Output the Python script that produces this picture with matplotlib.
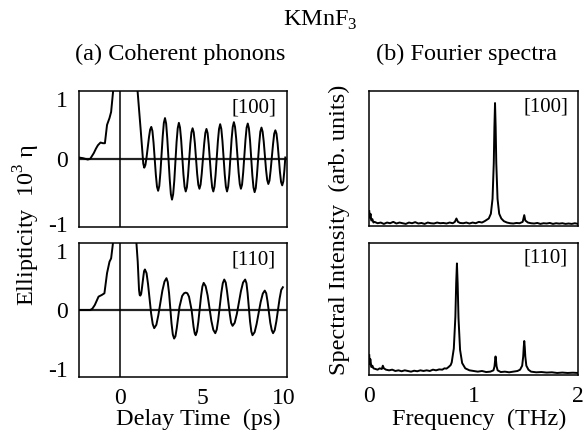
import matplotlib
matplotlib.use("Agg")
import matplotlib.pyplot as plt

plt.rcParams['font.family'] = ['Liberation Serif', 'DejaVu Serif']
plt.rcParams['mathtext.fontset'] = 'custom'
plt.rcParams['mathtext.rm'] = 'Liberation Serif'
plt.rcParams['axes.unicode_minus'] = False

# <--------- time domain, [100]  (delay ps, ellipticity 10^3 eta) --------->
pts_100 = [(-2.55, 0.02), (-2.3, 0.01), (-2.0, -0.01), (-1.85, 0.0), (-1.63, 0.085),
           (-1.5, 0.15), (-1.38, 0.2), (-1.22, 0.24), (-1.07, 0.23), (-0.95, 0.23),
           (-0.82, 0.5), (-0.67, 0.6), (-0.57, 0.69), (-0.45, 0.99), (-0.35, 1.3),
           (0.3, 3.0), (1.05, 1.0), (1.25, 0.4), (1.40, -0.07), (1.46, -0.13),
           (1.53, -0.09), (1.60, 0.02), (1.75, 0.32), (1.82, 0.43), (1.89, 0.47),
           (1.96, 0.41), (2.03, 0.235), (2.17, -0.235), (2.24, -0.41), (2.31, -0.47),
           (2.38, -0.40), (2.45, -0.20), (2.59, 0.33), (2.66, 0.53), (2.73, 0.60),
           (2.80, 0.52), (2.87, 0.30), (3.02, -0.30), (3.09, -0.52), (3.16, -0.60),
           (3.23, -0.52), (3.30, -0.32), (3.44, 0.25), (3.51, 0.45), (3.58, 0.53),
           (3.65, 0.46), (3.72, 0.28), (3.86, -0.23), (3.93, -0.41), (4.00, -0.48),
           (4.07, -0.42), (4.14, -0.25), (4.28, 0.22), (4.35, 0.39), (4.42, 0.45),
           (4.49, 0.39), (4.56, 0.23), (4.70, -0.22), (4.77, -0.38), (4.84, -0.44),
           (4.91, -0.38), (4.98, -0.22), (5.13, 0.22), (5.20, 0.38), (5.27, 0.44),
           (5.34, 0.38), (5.41, 0.21), (5.55, -0.25), (5.62, -0.42), (5.69, -0.48),
           (5.76, -0.41), (5.83, -0.23), (5.97, 0.26), (6.04, 0.44), (6.11, 0.51),
           (6.18, 0.44), (6.25, 0.26), (6.39, -0.23), (6.46, -0.41), (6.53, -0.48),
           (6.60, -0.41), (6.67, -0.23), (6.81, 0.29), (6.88, 0.47), (6.95, 0.54),
           (7.02, 0.47), (7.09, 0.30), (7.24, -0.20), (7.31, -0.37), (7.38, -0.44),
           (7.45, -0.38), (7.52, -0.20), (7.66, 0.28), (7.73, 0.46), (7.80, 0.52),
           (7.87, 0.45), (7.94, 0.27), (8.08, -0.24), (8.15, -0.42), (8.22, -0.49),
           (8.29, -0.43), (8.36, -0.25), (8.50, 0.22), (8.57, 0.40), (8.64, 0.46),
           (8.71, 0.40), (8.78, 0.25), (8.92, -0.16), (8.99, -0.31), (9.06, -0.37),
           (9.13, -0.32), (9.20, -0.17), (9.35, 0.22), (9.42, 0.37), (9.49, 0.42),
           (9.56, 0.37), (9.63, 0.22), (9.77, -0.19), (9.84, -0.34), (9.91, -0.39),
           (9.98, -0.33), (10.05, -0.15), (10.10, 0.02)]

# <--------- time domain, [110] --------->
pts_110 = [(-2.55, 0.0), (-2.2, 0.0), (-1.85, 0.0), (-1.72, 0.02), (-1.57, 0.075),
           (-1.34, 0.2), (-1.14, 0.225), (-0.98, 0.25), (-0.82, 0.55), (-0.67, 0.72),
           (-0.57, 0.77), (-0.47, 0.97), (-0.35, 1.3), (0.3, 3.0), (0.98, 1.0),
           (1.06, 0.72), (1.14, 0.30), (1.18, 0.225), (1.22, 0.215),
           (1.27, 0.24), (1.31, 0.31), (1.41, 0.51), (1.45, 0.58), (1.50, 0.605),
           (1.60, 0.55), (1.69, 0.39), (1.88, -0.05), (1.98, -0.21), (2.07, -0.27),
           (2.20, -0.22), (2.32, -0.08), (2.57, 0.29), (2.70, 0.425), (2.82, 0.475),
           (2.90, 0.415), (2.98, 0.25), (3.13, -0.20), (3.21, -0.365), (3.29, -0.425),
           (3.37, -0.39), (3.45, -0.27), (3.62, 0.05), (3.78, 0.21), (3.90, 0.25),
           (4.00, 0.26), (4.10, 0.25), (4.20, 0.2), (4.36, 0.0), (4.48, -0.25),
           (4.55, -0.345), (4.61, -0.375),
           (4.69, -0.32), (4.77, -0.18), (4.94, 0.21), (5.02, 0.35), (5.10, 0.405),
           (5.22, 0.355), (5.34, 0.22), (5.57, -0.16), (5.69, -0.295), (5.81, -0.345),
           (5.90, -0.29), (5.99, -0.145), (6.18, 0.255), (6.27, 0.40), (6.36, 0.455),
           (6.45, 0.41), (6.53, 0.28), (6.70, -0.06), (6.78, -0.19), (6.87, -0.235),
           (7.00, -0.19), (7.13, -0.06), (7.38, 0.28), (7.51, 0.41), (7.64, 0.455),
           (7.72, 0.40), (7.79, 0.25), (7.94, -0.17), (8.02, -0.32), (8.09, -0.375),
           (8.22, -0.33), (8.34, -0.21), (8.59, 0.12), (8.72, 0.245), (8.84, 0.29),
           (8.93, 0.25), (9.01, 0.13), (9.18, -0.19), (9.27, -0.30), (9.35, -0.345),
           (9.45, -0.30), (9.55, -0.17), (9.75, 0.17), (9.85, 0.30), (9.95, 0.34)]

# <--------- Fourier spectra, [100]  (THz, arb. units) --------->
f_100 = [0.0, 0.005, 0.012, 0.02, 0.03, 0.04, 0.05, 0.08, 0.11, 0.14, 0.17,
         0.20, 0.23, 0.26, 0.29, 0.32, 0.35, 0.38, 0.41, 0.44, 0.47, 0.50,
         0.53, 0.56, 0.59, 0.62, 0.65, 0.68, 0.71, 0.74, 0.77, 0.80, 0.82,
         0.835, 0.85, 0.87, 0.90, 0.93, 0.96, 0.99, 1.02, 1.05, 1.08, 1.105,
         1.145, 1.165, 1.181, 1.193, 1.199, 1.205, 1.211, 1.217, 1.229, 1.245,
         1.265, 1.29, 1.32, 1.35, 1.38, 1.41, 1.44, 1.47, 1.485, 1.495, 1.52,
         1.55, 1.58, 1.61, 1.64, 1.67, 1.70, 1.73, 1.76, 1.79, 1.82, 1.85,
         1.88, 1.91, 1.94, 1.97, 2.0]
s_100 = [0.11, 0.06, 0.09, 0.04, 0.05, 0.025, 0.03, 0.02, 0.025, 0.015, 0.025,
         0.02, 0.03, 0.018, 0.025, 0.02, 0.015, 0.025, 0.02, 0.028, 0.018, 0.022,
         0.015, 0.025, 0.02, 0.018, 0.025, 0.02, 0.022, 0.018, 0.025, 0.02, 0.03,
         0.055, 0.03, 0.022, 0.02, 0.025, 0.018, 0.025, 0.02, 0.03, 0.025, 0.035,
         0.055, 0.09, 0.2, 0.465, 0.73, 0.91, 0.73, 0.465, 0.2, 0.09,
         0.055, 0.035, 0.025, 0.02, 0.018, 0.022, 0.02, 0.03, 0.08, 0.04, 0.025,
         0.02, 0.018, 0.022, 0.015, 0.02, 0.018, 0.022, 0.015, 0.02, 0.017, 0.02,
         0.015, 0.018, 0.015, 0.02, 0.015]

# <--------- Fourier spectra, [110] --------->
f_110 = [0.0, 0.005, 0.01, 0.02, 0.03, 0.04, 0.06, 0.08, 0.10, 0.12, 0.13,
         0.14, 0.16, 0.19, 0.22, 0.25, 0.28, 0.31, 0.34, 0.37, 0.40, 0.43,
         0.46, 0.49, 0.52, 0.55, 0.58, 0.61, 0.64, 0.67, 0.70, 0.72, 0.74,
         0.76, 0.78, 0.79, 0.81, 0.825, 0.833, 0.84, 0.847, 0.855, 0.87, 0.89,
         0.92, 0.96, 1.0, 1.04, 1.08, 1.12, 1.16, 1.19, 1.20, 1.205, 1.21,
         1.215, 1.22, 1.23, 1.26, 1.30, 1.34, 1.38, 1.42, 1.445, 1.465, 1.475,
         1.48, 1.485, 1.49, 1.495, 1.505, 1.525, 1.55, 1.6, 1.65, 1.7, 1.75,
         1.8, 1.85, 1.9, 1.95, 2.0]
s_110 = [0.15, 0.08, 0.12, 0.06, 0.07, 0.05, 0.045, 0.04, 0.05, 0.045, 0.07,
         0.05, 0.04, 0.035, 0.04, 0.03, 0.035, 0.028, 0.035, 0.03, 0.025, 0.032,
         0.028, 0.035, 0.03, 0.035, 0.03, 0.04, 0.035, 0.042, 0.04, 0.05, 0.048,
         0.06, 0.075, 0.095, 0.2, 0.44, 0.7, 0.845, 0.69, 0.43, 0.19, 0.09,
         0.05, 0.035, 0.03, 0.025, 0.03, 0.022, 0.025, 0.035, 0.065, 0.105, 0.14,
         0.105, 0.065, 0.035, 0.022, 0.025, 0.02, 0.025, 0.03, 0.04, 0.07, 0.14,
         0.21, 0.257, 0.21, 0.14, 0.07, 0.04, 0.025, 0.02, 0.022, 0.018, 0.02,
         0.015, 0.018, 0.015, 0.017, 0.015]

TIME_TICKS = [0, 5, 10]
FREQ_TICKS = [0, 1, 2]
ELL_TICKS = [-1, 0, 1]

FS = 17.5
TICK_FS = 17
TAG_FS = 15

fig = plt.figure(figsize=(5.88, 4.37), dpi=100)

ax_t1 = fig.add_axes([0.134, 0.481, 0.354, 0.311])
ax_t2 = fig.add_axes([0.134, 0.137, 0.354, 0.307])
ax_f1 = fig.add_axes([0.628, 0.483, 0.355, 0.309])
ax_f2 = fig.add_axes([0.628, 0.142, 0.355, 0.302])

for ax, pts, lab in [(ax_t1, pts_100, "[100]"), (ax_t2, pts_110, "[110]")]:
    t, y = zip(*pts)
    ax.axhline(0, color="#222222", lw=1.6, zorder=1)
    ax.axvline(0, color="black", lw=1.1, zorder=1)
    ax.plot(t, y, color="black", lw=1.4, zorder=2, solid_joinstyle="round")
    ax.set_xlim(-2.55, 10.2)
    ax.set_ylim(-1, 1)
    ax.set_yticks(ELL_TICKS)
    ax.set_yticklabels([str(v) for v in ELL_TICKS])
    ax.set_xticks(TIME_TICKS)
    ax.text(0.948, 0.875, lab, transform=ax.transAxes, ha="right", va="center", fontsize=TAG_FS)

for ax, f, s, lab in [(ax_f1, f_100, s_100, "[100]"), (ax_f2, f_110, s_110, "[110]")]:
    ax.plot(f, s, color="black", lw=1.4)
    ax.set_xlim(0, 2)
    ax.set_ylim(0, 1)
    ax.set_yticks([])
    ax.set_xticks(FREQ_TICKS)
    ax.text(0.952, 0.884, lab, transform=ax.transAxes, ha="right", va="center", fontsize=TAG_FS)

for ax in [ax_t1, ax_t2, ax_f1, ax_f2]:
    ax.tick_params(length=0, labelsize=TICK_FS, pad=8)
    ax.tick_params(axis="y", pad=8)
    for sp in ax.spines.values():
        sp.set_linewidth(1.1)

# the 1 / -1 labels sit inside the panel edges, as in the original
for ax, low_va in [(ax_t1, "center"), (ax_t2, "baseline")]:
    labels = ax.get_yticklabels()
    labels[0].set_va(low_va)
    labels[2].set_va("top")

ax_t1.set_xticklabels([])
ax_f1.set_xticklabels([])
ax_t2.set_xticklabels([str(v) for v in TIME_TICKS])
ax_f2.set_xticklabels([str(v) for v in FREQ_TICKS])

fig.text(0.544, 0.954, "KMnF$_3$", ha="center", va="center", fontsize=FS)
fig.text(0.306, 0.876, "(a) Coherent phonons", ha="center", va="center", fontsize=FS)
fig.text(0.793, 0.876, "(b) Fourier spectra", ha="center", va="center", fontsize=FS)
fig.text(0.338, 0.040, "Delay Time  (ps)", ha="center", va="center", fontsize=FS)
fig.text(0.815, 0.040, "Frequency  (THz)", ha="center", va="center", fontsize=FS)
fig.text(0.046, 0.485, "Ellipticity  10$^3$ \u03b7", ha="center", va="center",
         rotation=90, fontsize=FS)
fig.text(0.577, 0.474, "Spectral Intensity  (arb. units)", ha="center", va="center",
         rotation=90, fontsize=FS)

fig.savefig("out.png", dpi=100)
